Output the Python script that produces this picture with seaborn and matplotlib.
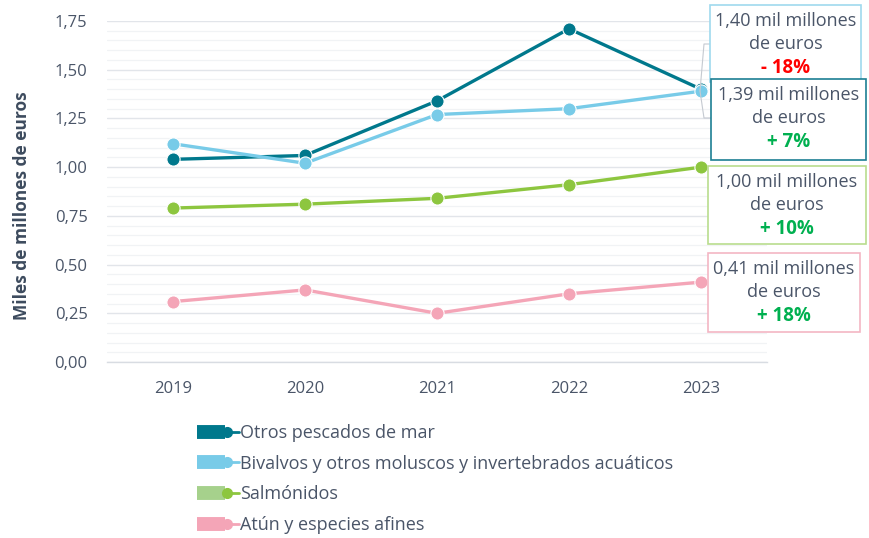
import matplotlib
matplotlib.use("Agg")
import matplotlib.pyplot as plt
from matplotlib.lines import Line2D
from matplotlib.patches import Rectangle
from matplotlib.legend_handler import HandlerBase
from matplotlib.ticker import MultipleLocator, FixedLocator, FuncFormatter
import seaborn as sns
import pandas as pd

# ---- data (thousand million euros) ----
years = ["2019", "2020", "2021", "2022", "2023"]
otros_pescados = [1.04, 1.06, 1.34, 1.71, 1.40]
bivalvos = [1.12, 1.02, 1.27, 1.30, 1.39]
salmonidos = [0.79, 0.81, 0.84, 0.91, 1.00]
atun = [0.31, 0.37, 0.25, 0.35, 0.41]

series_names = [
    "Otros pescados de mar",
    "Bivalvos y otros moluscos y invertebrados acuáticos",
    "Salmónidos",
    "Atún y especies afines",
]
series_values = [otros_pescados, bivalvos, salmonidos, atun]
line_colors = ["#00788c", "#78cbe8", "#8dc63f", "#f4a5b7"]
legend_bar_colors = ["#00788c", "#78cbe8", "#a6d18c", "#f4a5b7"]
box_edge_colors = ["#9fd9ee", "#1d7f93", "#b9dd8e", "#f4b6c4"]
change_labels = ["- 18%", "+ 7%", "+ 10%", "+ 18%"]
change_colors = ["#ff0000", "#00b050", "#00b050", "#00b050"]

TEXT = "#4a5568"
W, H = 869, 538

sns.set_theme(style="white")
plt.rcParams["font.family"] = ["Open Sans", "DejaVu Sans"]

fig = plt.figure(figsize=(W / 100, H / 100), dpi=100)
ax = fig.add_axes([107 / W, 1 - 362 / H, (767 - 107) / W, (362 - 21) / H])

rows = []
for name, vals in zip(series_names, series_values):
    for i, v in enumerate(vals):
        rows.append({"serie": name, "pos": i, "valor": v})
df = pd.DataFrame(rows)

for name, col in zip(series_names, line_colors):
    sns.lineplot(
        data=df[df["serie"] == name], x="pos", y="valor", ax=ax,
        color=col, linewidth=2.4, marker="o", markersize=9.5,
        markeredgecolor="white", markeredgewidth=0.8, legend=False, zorder=3,
    )

ax.set_xlim(-0.5, 4.5)
ax.set_ylim(0, 1.75)
ax.set_xlabel("")
ax.set_ylabel("")


def fx(px):
    return px / W


def fy(py):
    return 1 - py / H


fig.text(fx(22), fy(206), "Miles de millones de euros", rotation=90,
         ha="center", va="center", fontsize=12.5, fontweight="bold", color="#3d4b5e")

# grid
ax.yaxis.set_major_locator(MultipleLocator(0.25))
ax.yaxis.set_minor_locator(MultipleLocator(0.05))
ax.grid(axis="y", which="major", color="#e2e5ea", linewidth=1.0)
ax.grid(axis="y", which="minor", color="#f1f3f5", linewidth=0.9)
ax.grid(axis="x", visible=False)
ax.set_axisbelow(True)
ax.yaxis.set_major_formatter(FuncFormatter(lambda v, p: f"{v:.2f}".replace(".", ",")))
ax.tick_params(axis="y", which="both", length=0, pad=14, labelsize=12, labelcolor=TEXT)

ax.xaxis.set_major_locator(FixedLocator(range(len(years))))
ax.set_xticklabels(years)
ax.xaxis.set_minor_locator(FixedLocator([i - 0.5 for i in range(len(years) + 1)]))
ax.tick_params(axis="x", which="major", length=0, pad=14, labelsize=12, labelcolor=TEXT)
ax.tick_params(axis="x", which="minor", length=6, width=1, color="#d8dce2", direction="out")

for s in ["left", "right", "top"]:
    ax.spines[s].set_visible(False)
ax.spines["bottom"].set_color("#d8dce2")
ax.spines["bottom"].set_linewidth(1)

# value boxes for 2023
boxes = [(710, 5, 861, 82), (711, 79, 866, 160), (708, 166, 866, 244), (708, 253, 860, 332)]
for k, (x0, y0, x1, y1) in enumerate(boxes):
    v = series_values[k][-1]
    fig.patches.append(Rectangle((fx(x0), fy(y1)), fx(x1 - x0), (y1 - y0) / H,
                                 transform=fig.transFigure, fill=True, facecolor="white",
                                 edgecolor=box_edge_colors[k], linewidth=1.2, zorder=4))
    cx = fx((x0 + x1) / 2)
    fig.text(cx, fy(y0 + 16), f"{v:.2f}".replace(".", ",") + " mil millones",
             ha="center", va="center", fontsize=13, color=TEXT, zorder=5)
    fig.text(cx, fy(y0 + 39), "de euros", ha="center", va="center",
             fontsize=13, color=TEXT, zorder=5)
    fig.text(cx, fy(y0 + 63), change_labels[k], ha="center", va="center",
             fontsize=13.5, fontweight="bold", color=change_colors[k], zorder=5)

# bracket connectors at the 2023 overlap
fig.add_artist(Line2D([fx(700), fx(704), fx(704), fx(710)],
                      [fy(91), fy(44), fy(44), fy(44)],
                      transform=fig.transFigure, color="#c5cad1", linewidth=0.8))
fig.add_artist(Line2D([fx(700), fx(704), fx(704), fx(711)],
                      [fy(91), fy(118), fy(118), fy(118)],
                      transform=fig.transFigure, color="#c5cad1", linewidth=0.8))


class BarDotHandler(HandlerBase):
    def create_artists(self, legend, orig_handle, xdescent, ydescent,
                       width, height, fontsize, trans):
        y = height / 2 - ydescent
        x0 = -xdescent
        bar = Line2D([x0, x0 + width * 0.68], [y, y], color=orig_handle._bar,
                     linewidth=10, solid_capstyle="butt", transform=trans)
        tail = Line2D([x0 + width * 0.66, x0 + width * 1.0], [y, y],
                      color=orig_handle.get_color(), linewidth=2, transform=trans)
        dot = Line2D([x0 + width * 0.73], [y], color=orig_handle.get_color(),
                     marker="o", markersize=7, linestyle="none", transform=trans)
        return [bar, tail, dot]


handles = []
for col, bcol in zip(line_colors, legend_bar_colors):
    h = Line2D([], [], color=col)
    h._bar = bcol
    handles.append(h)

leg = fig.legend(handles, series_names, handler_map={Line2D: BarDotHandler()},
                 loc="upper left", bbox_to_anchor=(fx(197), fy(424)),
                 frameon=False, fontsize=13, labelcolor=TEXT,
                 handlelength=2.3, handletextpad=0.1, labelspacing=0.7,
                 borderaxespad=0, borderpad=0)

fig.savefig("out.png", dpi=100, facecolor="white")
